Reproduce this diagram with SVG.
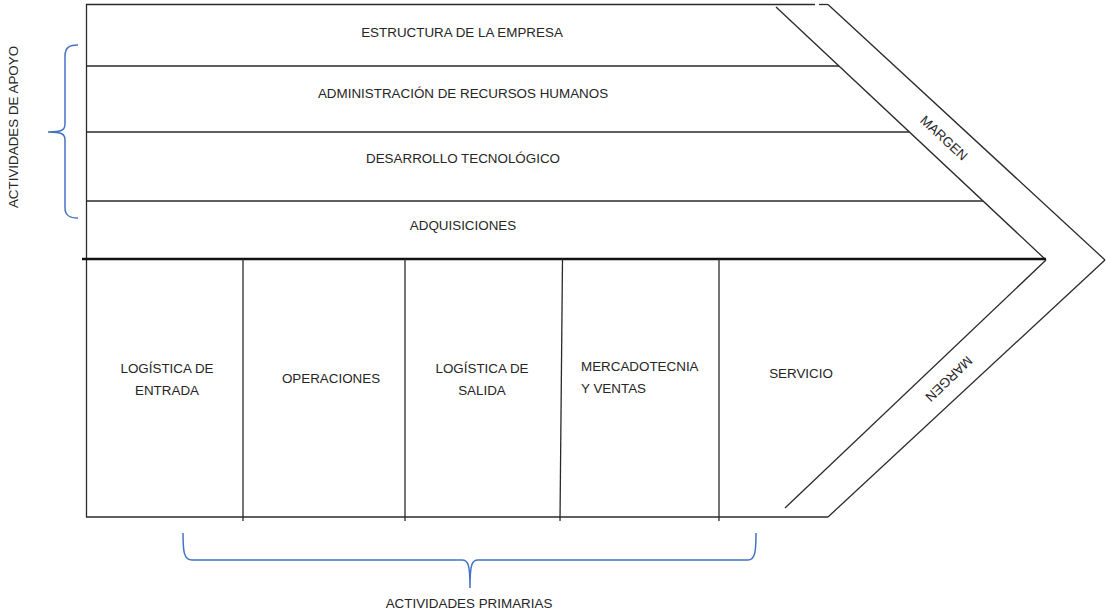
<svg xmlns="http://www.w3.org/2000/svg" width="1107" height="611" viewBox="0 0 1107 611">
<style>
.ln{stroke:#2a2a2a;stroke-width:1.3;fill:none}
.thick{stroke:#111;stroke-width:2.4;fill:none}
.br{stroke:#4472c4;stroke-width:1.5;fill:none}
.t{font-family:"Liberation Sans",Arial,sans-serif;font-size:13.4px;fill:#262626}
.c{text-anchor:middle}
</style>
<rect width="1107" height="611" fill="#fff"/>
<g id="frame">
<line class="ln" x1="86" y1="4.5" x2="815" y2="4.5"/>
<line class="ln" x1="819" y1="4.5" x2="828" y2="4.5"/>
<line class="ln" x1="86.5" y1="4" x2="86.5" y2="517"/>
<line class="ln" x1="86" y1="517" x2="828" y2="517"/>
<line class="ln" x1="776" y1="7" x2="1046" y2="260"/>
<line class="ln" x1="1046" y1="260" x2="785" y2="508"/>
<line class="ln" x1="828" y1="4.5" x2="1105" y2="260"/>
<line class="ln" x1="1105" y1="260" x2="828" y2="517"/>
<line class="ln" x1="86" y1="66" x2="839" y2="66"/>
<line class="ln" x1="86" y1="132" x2="909" y2="132"/>
<line class="ln" x1="86" y1="201" x2="983" y2="201"/>
<line class="thick" x1="82" y1="259" x2="1046" y2="259"/>
<line class="ln" x1="243" y1="259" x2="243" y2="521"/>
<line class="ln" x1="405" y1="259" x2="405" y2="521"/>
<line class="ln" x1="562.5" y1="259" x2="560" y2="521"/>
<line class="ln" x1="719" y1="259" x2="719" y2="521"/>
</g>
<g id="estructura"><text class="t c" x="462" y="37">ESTRUCTURA DE LA EMPRESA</text></g>
<g id="rrhh"><text class="t c" x="463" y="98">ADMINISTRACIÓN DE RECURSOS HUMANOS</text></g>
<g id="tecnologia"><text class="t c" x="463" y="163">DESARROLLO TECNOLÓGICO</text></g>
<g id="adquisiciones"><text class="t c" x="463" y="230">ADQUISICIONES</text></g>
<g id="log-entrada"><text class="t c" x="167" y="373">LOGÍSTICA DE</text><text class="t c" x="167" y="395">ENTRADA</text></g>
<g id="operaciones"><text class="t c" x="331" y="383">OPERACIONES</text></g>
<g id="log-salida"><text class="t c" x="482" y="373">LOGÍSTICA DE</text><text class="t c" x="482" y="395">SALIDA</text></g>
<g id="mercadotecnia"><text class="t" x="581" y="371">MERCADOTECNIA</text><text class="t" x="581" y="393">Y VENTAS</text></g>
<g id="servicio"><text class="t c" x="801" y="378">SERVICIO</text></g>
<g id="margen-sup"><text class="t c" x="944" y="138" dy="0.35em" transform="rotate(43 944 138)">MARGEN</text></g>
<g id="margen-inf"><text class="t c" x="949" y="379" dy="0.35em" transform="rotate(136.5 949 379)">MARGEN</text></g>
<g id="apoyo">
<path class="br" d="M78,45 C70,45 65,47 65,56 L65,124 C65,130 62,132 48,132 C62,132 65,134 65,140 L65,208 C65,216 70,218 78,218"/>
<text class="t c" x="13" y="127" dy="0.35em" font-size="12.3" transform="rotate(-90 13 127)">ACTIVIDADES DE APOYO</text>
</g>
<g id="primarias">
<path class="br" d="M183,533 C183,552 184,560 192,560 L462,560 C468,560 470,564 470,588 C470,564 472,560 478,560 L748,560 C755,560 756,552 756,533"/>
<text class="t c" x="469" y="608">ACTIVIDADES PRIMARIAS</text>
</g>
</svg>
